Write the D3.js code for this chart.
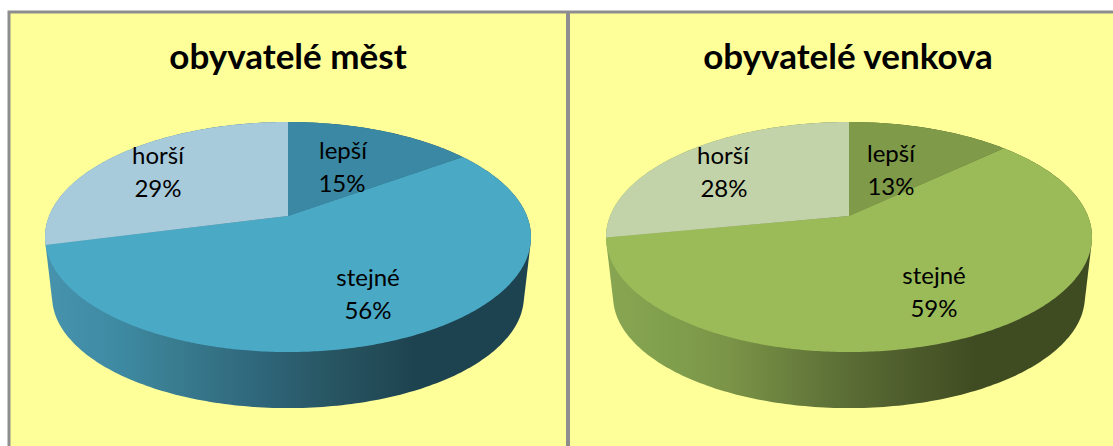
<!DOCTYPE html>
<html><head><meta charset="utf-8">
<script src="https://cdn.jsdelivr.net/npm/d3@7"></script>
<style>html,body{margin:0;padding:0;background:#fff}svg{display:block}text{font-family:Lato,"Open Sans",sans-serif;fill:#000}</style>
</head><body><svg id="c" width="1113" height="446"></svg>
<script>
const categories = ["lepší", "stejné", "horší"];
const cityValues = [15, 56, 29];
const ruralValues = [13, 59, 28];
const titles = ["obyvatelé měst", "obyvatelé venkova"];
const cityColors = ["#3a88a3", "#4aa9c5", "#a8cbdc"];
const ruralColors = ["#7f9a48", "#9bbb59", "#c3d3a9"];
const cityRamp = ["#4793ad", "#3e8aa3", "#3a7e92", "#2e6478", "#275460", "#1e4350", "#1e4350"];
const ruralRamp = ["#88a652", "#7f9e4c", "#7b9447", "#5f7338", "#505f2d", "#3f4c22", "#3f4c22"];
const rampStops = [0, 0.15, 0.25, 0.46, 0.6, 0.76, 1];

const svg = d3.select("#c");
const defs = svg.append("defs");
const W = 1113, H = 446;

// panels
svg.append("rect").attr("x", 9).attr("y", 12).attr("width", W).attr("height", H)
  .attr("fill", "#ffff99").attr("stroke", "#8e8e8e").attr("stroke-width", 3);
svg.append("line").attr("x1", 568).attr("x2", 568).attr("y1", 12).attr("y2", H)
  .attr("stroke", "#8e8e8e").attr("stroke-width", 4);

// perspective projection of the pie disc
const k = 0.1826, a = 238.9, b = 111.2;
function project(theta, scale, cx, cy) {
  const X = Math.sin(theta), Y = Math.cos(theta), w = 1 + k * Y;
  return [cx + scale * a * X / w, cy - scale * b * Y / w];
}
const line = d3.line();

function drawPie(id, title, values, colors, ramp, cx, titleX, labelPos) {
  const g = svg.append("g");
  const apexY = 216, floorY = 276, floorScale = 0.971;
  const grad = defs.append("linearGradient").attr("id", id).attr("gradientUnits", "userSpaceOnUse")
    .attr("x1", cx - 243).attr("x2", cx + 243).attr("y1", 0).attr("y2", 0);
  rampStops.forEach((s, i) => grad.append("stop").attr("offset", s).attr("stop-color", ramp[i]));

  // side wall: hull of the top and bottom rims
  const samples = d3.range(0, 2 * Math.PI, Math.PI / 180);
  const rim = samples.flatMap(t => [project(t, 1, cx, apexY), project(t, floorScale, cx, floorY)]);
  g.append("path").attr("d", line(d3.polygonHull(rim)) + "Z").attr("fill", `url(#${id})`);

  // top face
  const arcs = d3.pie().sort(null).value(d => d)(values);
  arcs.forEach((d, i) => {
    const n = Math.max(2, Math.ceil((d.endAngle - d.startAngle) * 90));
    const pts = [[cx, apexY]];
    for (let j = 0; j <= n; j++) pts.push(project(d.startAngle + (d.endAngle - d.startAngle) * j / n, 1, cx, apexY));
    g.append("path").attr("d", line(pts) + "Z").attr("fill", colors[i]);
  });

  g.append("text").attr("x", titleX).attr("y", 69).attr("text-anchor", "middle")
    .attr("font-size", 35).attr("font-weight", 700).text(title);

  values.forEach((v, i) => {
    const t = g.append("text").attr("text-anchor", "middle").attr("font-size", 24);
    t.append("tspan").attr("x", cx + labelPos[i][0]).attr("y", labelPos[i][1]).text(categories[i]);
    t.append("tspan").attr("x", cx + labelPos[i][2]).attr("y", labelPos[i][1] + 33).text(v + "%");
  });
}

drawPie("gradCity", titles[0], cityValues, cityColors, cityRamp, 288, 288,
  [[55, 159, 54], [80, 286, 80], [-130, 164, -130]]);
drawPie("gradRural", titles[1], ruralValues, ruralColors, ruralRamp, 849, 848,
  [[42, 162, 42], [85, 284, 85], [-126, 164, -125]]);
</script></body></html>
